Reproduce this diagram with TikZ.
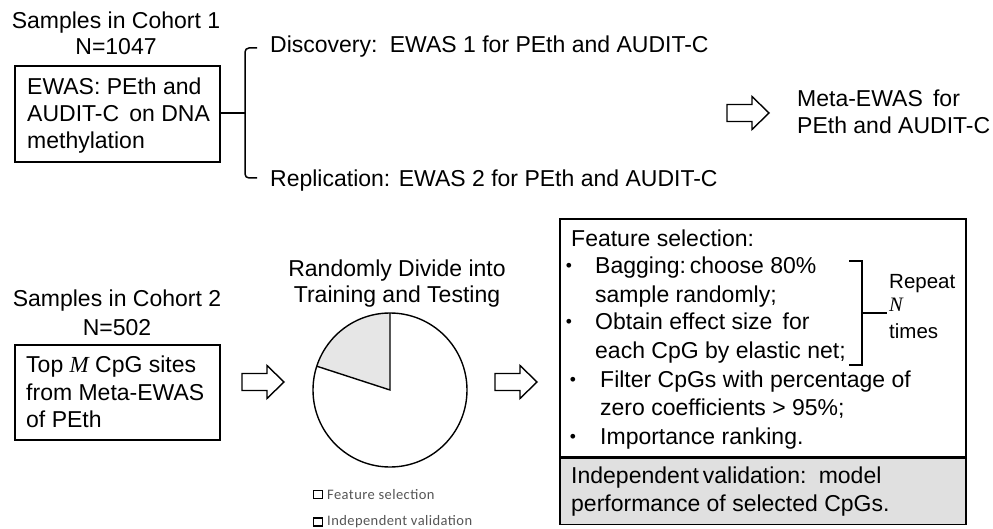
\documentclass[tikz,border=0pt]{standalone}
\usepackage{fontspec}
\usetikzlibrary{calc}
\setmainfont{Liberation Sans}
\newfontfamily\serifit{Liberation Serif}[ItalicFont={Liberation Serif Italic}]
\newfontfamily\legfont{Carlito}[LetterSpace=3]
\newcommand\bigf{\fontsize{23}{27.5}\selectfont}
\newcommand\midf{\fontsize{20.5}{24}\selectfont}
\newcommand\italM{{\serifit\itshape M}}
\newcommand\italN{{\serifit\itshape N}}
\newcommand\smbullet{\raisebox{2pt}{\fontsize{17.5}{17.5}\selectfont •}}
\definecolor{boxgray}{HTML}{E0E0E0}
\definecolor{piegray}{HTML}{E6E6E6}
\definecolor{leggray}{HTML}{555555}
\begin{document}
\begin{tikzpicture}[x=1pt,y=-1pt,
  txt/.style={inner sep=0pt, anchor=base west, font=\bigf},
  ctxt/.style={inner sep=0pt, anchor=base, font=\bigf},
  bul/.style={inner sep=0pt, anchor=base, font=\bigf},
  frame/.style={draw=black, line width=1.4pt, inner sep=0pt},
  conn/.style={draw=black, line width=1.5pt},
  hollow arrow/.pic={\draw[black, line width=1.4pt, fill=white, line join=miter]
     (-21,-8.5) -- (4,-8.5) -- (4,-16.5) -- (21,0) -- (4,16.5) -- (4,8.5) -- (-21,8.5) -- cycle;},
  legbox/.style={draw=black, line width=1.5pt, fill=white, minimum width=9pt, minimum height=8pt, inner sep=0pt},
  legtxt/.style={inner sep=0pt, anchor=west, font=\legfont\fontsize{14.5}{16}\selectfont, text=leggray}
]
\useasboundingbox (0,0) rectangle (993,529);

% ---------- top part ----------
\node[ctxt] (c1title) at (116,29) {Samples in Cohort 1};
\node[ctxt] (c1n) at (116,55) {N=1047};
\node[frame, minimum width=205pt, minimum height=96pt] (box1) at (117.5,114) {};
\node[txt] (b1l1) at (27,95) {EWAS: PEth and};
\node[txt] (b1l2) at (27,122) {AUDIT-C\, on DNA};
\node[txt] (b1l3) at (27,149) {methylation};

\node[txt] (disc) at (270,53) {Discovery:\, EWAS 1 for PEth and AUDIT-C};
\node[txt] (repl) at (270,187) {Replication: EWAS 2 for PEth and AUDIT-C};

\coordinate (bj) at (245,113);
\coordinate (bt) at (257,48);
\coordinate (bb) at (257,178);
\draw[conn] (box1.east |- bj) -- (bj);
\draw[conn, rounded corners=4pt] (bt) -- (bt -| bj) -- (bb -| bj) -- (bb);

\pic at (748,113) {hollow arrow};
\node[txt] (meta1) at (797,107) {Meta-EWAS\, for};
\node[txt] (meta2) at (797,134) {PEth and AUDIT-C};

% ---------- bottom part ----------
\node[ctxt] (c2title) at (117,307) {Samples in Cohort 2};
\node[ctxt] (c2n) at (117,335) {N=502};
\node[frame, minimum width=205pt, minimum height=95pt] (box2) at (117.5,392.5) {};
\node[txt] (b2l1) at (26,372) {Top \italM\ CpG sites};
\node[txt] (b2l2) at (26,400) {from Meta-EWAS};
\node[txt] (b2l3) at (26,427) {of PEth};

\pic at (263,382) {hollow arrow};

\node[ctxt] (rd1) at (397,277) {Randomly Divide into};
\node[ctxt] (rd2) at (397,302) {Training and Testing};

\coordinate (pc) at (390,390);
\fill[piegray] (pc) -- (390,313) arc[start angle=-90, end angle=-162, radius=77] -- cycle;
\draw[black, line width=1.4pt] (pc) circle[radius=77];
\draw[black, line width=1.4pt] (390,313) -- (pc) -- ($(pc)+(-162:77)$);

\node[legbox] (lg1) at (318,494.5) {};
\node[legtxt] (lt1) at (327,494.5) {Feature selection};
\node[legbox] (lg2) at (318,522) {};
\node[legtxt] (lt2) at (327,522) {Independent validation};

\pic at (516,382) {hollow arrow};

\node[frame, minimum width=406pt, minimum height=238pt] (fstop) at (763,338) {};
\node[frame, fill=boxgray, minimum width=406pt, minimum height=66pt, anchor=north] (fsbot) at (fstop.south) {};

\node[txt] (fs0) at (571,247) {Feature selection:};
\node[bul] (bu1) at (569,274) {\smbullet};
\node[txt] (fs1) at (595,274) {Bagging:\,choose 80\%};
\node[txt] (fs2) at (595,302) {sample randomly;};
\node[bul] (bu2) at (569,330) {\smbullet};
\node[txt] (fs3) at (595,330) {Obtain effect size\, for};
\node[txt] (fs4) at (595,358) {each CpG by elastic net;};
\node[bul] (bu3) at (573,387) {\smbullet};
\node[txt] (fs5) at (600,387) {Filter CpGs with percentage of};
\node[txt] (fs6) at (600,415) {zero coefficients > 95\%;};
\node[bul] (bu4) at (573,444) {\smbullet};
\node[txt] (fs7) at (600,444) {Importance ranking.};

\node[txt] (iv1) at (571,483) {Independent\,validation:\, model};
\node[txt] (iv2) at (571,511) {performance of selected CpGs.};

\coordinate (rj) at (862,313);
\coordinate (rt) at (849,261);
\coordinate (rb) at (849,365);
\coordinate (rn) at (887,313);
\draw[conn, line width=1.8pt] (rt) -- (rt -| rj) -- (rb -| rj) -- (rb);
\draw[conn, line width=1.8pt] (rj) -- (rn);
\node[inner sep=0pt, anchor=base west, font=\midf] (rp1) at (889,288) {Repeat};
\node[inner sep=0pt, anchor=base west, font=\midf] (rp2) at (889,312) {\italN};
\node[inner sep=0pt, anchor=base west, font=\midf] (rp3) at (889,338) {times};
\end{tikzpicture}
\end{document}
